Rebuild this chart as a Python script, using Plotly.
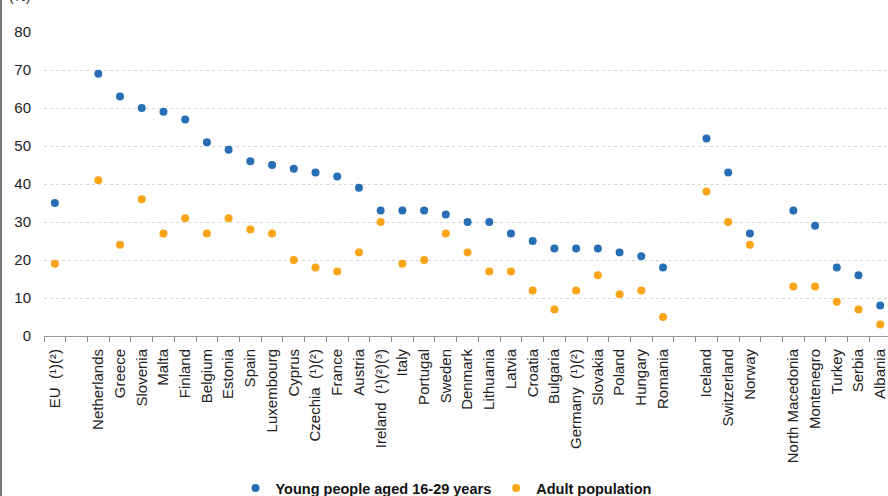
import plotly.graph_objects as go

categories = ["EU  (¹)(²)", " ", "Netherlands", "Greece", "Slovenia", "Malta", "Finland", "Belgium",
              "Estonia", "Spain", "Luxembourg", "Cyprus", "Czechia  (¹)(²)", "France", "Austria",
              "Ireland  (¹)(²)(³)", "Italy", "Portugal", "Sweden", "Denmark", "Lithuania", "Latvia",
              "Croatia", "Bulgaria", "Germany  (¹)(²)", "Slovakia", "Poland", "Hungary", "Romania",
              "  ", "Iceland", "Switzerland", "Norway", "   ", "North Macedonia", "Montenegro",
              "Turkey", "Serbia", "Albania"]

young = [35, None, 69, 63, 60, 59, 57, 51, 49, 46, 45, 44, 43, 42, 39, 33, 33, 33, 32, 30, 30, 27,
         25, 23, 23, 23, 22, 21, 18, None, 52, 43, 27, None, 33, 29, 18, 16, 8]
adult = [19, None, 41, 24, 36, 27, 31, 27, 31, 28, 27, 20, 18, 17, 22, 30, 19, 20, 27, 22, 17, 17,
         12, 7, 12, 16, 11, 12, 5, None, 38, 30, 24, None, 13, 13, 9, 7, 3]

series_names = ["Young people aged 16-29 years", "Adult population"]
yticks = [0, 10, 20, 30, 40, 50, 60, 70, 80]

BLUE = "#286EB4"
ORANGE = "#FAA519"
FONT = "Liberation Sans, Arial, sans-serif"

fig = go.Figure()
fig.add_trace(go.Scatter(x=categories, y=young, mode="markers", name=series_names[0],
                         marker=dict(color=BLUE, size=8), cliponaxis=False))
fig.add_trace(go.Scatter(x=categories, y=adult, mode="markers", name=series_names[1],
                         marker=dict(color=ORANGE, size=8), cliponaxis=False))

fig.update_layout(
    width=888, height=496,
    margin=dict(l=44, r=0, t=32, b=160, autoexpand=False),
    paper_bgcolor="white", plot_bgcolor="white",
    font=dict(family=FONT, size=14, color="#222222"),
    showlegend=True,
    legend=dict(orientation="h", x=0.5 - 20 / 844, xanchor="center", y=-0.5, yanchor="middle",
                font=dict(family=FONT, size=14.5, color="#111111", weight="bold"),
                itemwidth=30, bgcolor="rgba(0,0,0,0)"),
    xaxis=dict(type="category", categoryorder="array", categoryarray=categories,
               range=[-0.5, -0.5 + (888 - 44) / 21.72], automargin=False,
               tickangle=-90, ticks="outside", ticklen=5, tickcolor="#888888",
               tickson="boundaries", showline=True, linecolor="#999999", linewidth=1,
               showgrid=False, ticklabelstandoff=6,
               tickfont=dict(family=FONT, size=15, color="#222222")),
    yaxis=dict(range=[0, 80], tickvals=yticks, showline=False, zeroline=False, automargin=False,
               showgrid=True, gridcolor="#d4d4d4", griddash="dot", gridwidth=1,
               ticks="", ticklabelstandoff=12,
               tickfont=dict(family=FONT, size=15, color="#222222")),
)

fig.add_annotation(text="(%)", xref="paper", yref="paper", x=-24 / 844, y=1 + 36 / 304,
                   xanchor="center", yanchor="middle", showarrow=False,
                   font=dict(family=FONT, size=14, color="#222222"))
fig.add_shape(type="line", xref="paper", yref="paper", x0=-43 / 844, x1=-43 / 844,
              y0=-160 / 304, y1=1 + 32 / 304, line=dict(color="#777777", width=2))

fig.write_html("out.html", config={"displayModeBar": False},
               post_script="document.body.style.margin='0px';document.body.style.overflow='hidden';")
